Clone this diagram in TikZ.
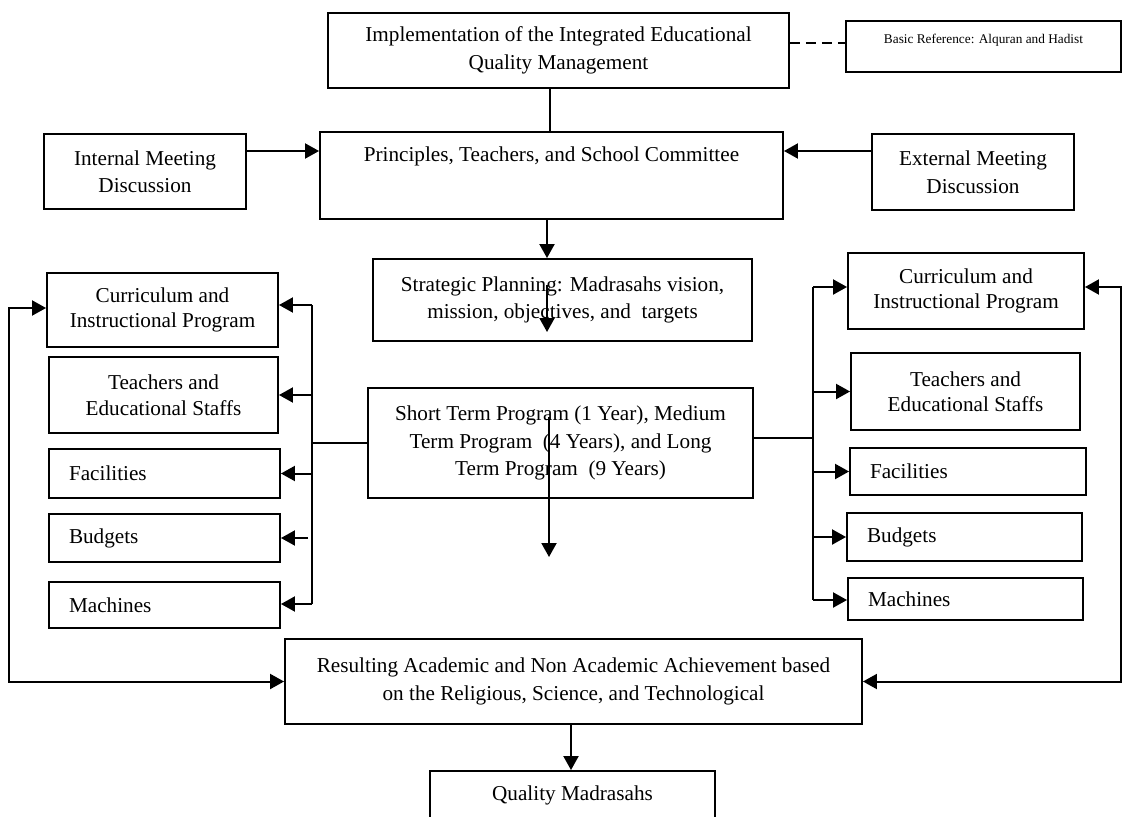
\documentclass[tikz,border=0pt]{standalone}
\usepackage{fontspec}
\setmainfont{Liberation Serif}
\usetikzlibrary{arrows.meta}
\begin{document}
\begin{tikzpicture}[x=1pt,y=-1pt,
  txtfont/.style={font=\fontsize{21.2}{27.5}\selectfont},
  box/.style 2 args={draw, line width=1.9pt, inner sep=0pt,
    minimum width=#1, minimum height=#2, align=center, txtfont},
  sidebox/.style 2 args={box={#1}{#2}, font=\fontsize{21.2}{25.5}\selectfont},
  leftbox/.style 2 args={box={#1}{#2}, inner xsep=20pt, text width=#1-40pt, align=left},
  txt/.style={inner sep=0pt, align=center, txtfont},
  tip/.tip={Triangle[length=14pt,width=15pt]},
  arr/.style={line width=2pt, -tip},
  dbl/.style={line width=2pt, tip-tip},
  conn/.style={line width=2pt},
  thinconn/.style={line width=1.4pt},
]
\clip (0,0) rectangle (1123,816);
\fill[white] (0,0) rectangle (1123,816);

% top row
\node[box={461pt}{75pt}] (impl) at (558.5,50.5)
  {Implementation of the Integrated Educational\\Quality Management};
\node[box={275pt}{51pt}] (basic) at (983.5,46.5) {};
\node[inner sep=0pt, font=\fontsize{13.3}{16}\selectfont] (basicT) at (983.5,40)
  {Basic Reference: Alquran and Hadist};
\coordinate (dy) at (0,43);
\draw[line width=1.5pt, dash pattern=on 10pt off 6pt] (impl.east |- dy) -- (basic.west |- dy);

% meetings
\node[box={463pt}{87pt}] (prin) at (551.5,175.5) {};
\node[txt] (prinT) at (551.5,156) {Principles, Teachers, and School Committee};
\node[box={202pt}{75pt}] (intm) at (145,171.5) {Internal Meeting\\Discussion};
\node[box={202pt}{76pt}] (extm) at (973,172) {External Meeting\\Discussion};
\coordinate (my) at (0,151);
\draw[arr] (intm.east |- my) -- (prin.west |- my);
\draw[arr] (extm.west |- my) -- (prin.east |- my);
\coordinate (ix) at (550,0);
\draw[conn] (impl.south -| ix) -- (prin.north -| ix);

% planning
\node[box={379pt}{82pt}] (strat) at (562.5,300)
  {Strategic Planning: Madrasahs vision,\\mission, objectives, and\ \ targets};
\node[box={385pt}{110pt}] (short) at (560.5,443)
  {Short Term Program (1 Year), Medium\\Term Program\ \ (4 Years), and Long\\Term Program\ \ (9 Years)};
\coordinate (mx) at (547,0);
\draw[arr] (prin.south -| mx) -- (strat.north -| mx);
\coordinate (s1) at (547,285);
\coordinate (s2) at (547,332);
\draw[arr] (s1) -- (s2);
\coordinate (p1) at (549,417);
\coordinate (p2) at (549,557);
\draw[arr] (p1) -- (p2);

% left column
\node[sidebox={231pt}{74pt}] (CL) at (162.5,310) {Curriculum and\\Instructional Program};
\node[sidebox={229pt}{76pt}] (TL) at (163.5,395) {Teachers and\\Educational Staffs};
\node[leftbox={231pt}{49pt}] (FL) at (164.5,473.5) {Facilities};
\node[leftbox={231pt}{48pt}] (BL) at (164.5,538) {Budgets};
\node[leftbox={231pt}{46pt}] (ML) at (164.5,605) {Machines};
\coordinate (lbT) at (312,305);
\coordinate (lbB) at (312,604);
\draw[conn] (lbT) -- (lbB);
\draw[thinconn] (short.west) -- (short.west -| lbT);
\draw[arr] (lbT) -- (CL.east |- lbT);
\draw[arr] (TL.east -| lbT) -- (TL.east);
\draw[arr] (FL.east -| lbT) -- (FL.east);
\draw[arr] ([xshift=-4pt]BL.east -| lbT) -- (BL.east);
\draw[arr] (lbB) -- (ML.east |- lbB);

% right column
\node[sidebox={236pt}{76pt}] (CR) at (966,291) {Curriculum and\\Instructional Program};
\node[sidebox={229pt}{77pt}] (TR) at (965.5,391.5) {Teachers and\\Educational Staffs};
\node[leftbox={236pt}{47pt}] (FR) at (968,471.5) {Facilities};
\node[leftbox={235pt}{48pt}] (BR) at (964.5,537) {Budgets};
\node[leftbox={235pt}{42pt}] (MR) at (965.5,599) {Machines};
\coordinate (rbT) at (813,287);
\coordinate (rbB) at (813,600);
\draw[conn] (rbT) -- (rbB);
\draw[thinconn] ([yshift=5pt]short.east) -- ([yshift=5pt]short.east -| rbT);
\draw[arr] (rbT) -- (CR.west |- rbT);
\draw[arr] (TR.west -| rbT) -- (TR.west);
\draw[arr] (FR.west -| rbT) -- (FR.west);
\draw[arr] (BR.west -| rbT) -- (BR.west);
\draw[arr] (rbB) -- (MR.west |- rbB);

% results
\node[box={577pt}{85pt}] (res) at (573.5,681.5)
  {Resulting Academic and Non Academic Achievement based\\on the Religious, Science, and Technological};
\node[box={285pt}{90pt}] (qual) at (572.5,816) {};
\node[txt] (qualT) at (572.5,795) {Quality Madrasahs};
\coordinate (qx) at (571,0);
\draw[arr] (res.south -| qx) -- (qual.north -| qx);

% feedback loops
\coordinate (lf) at (9,0);
\coordinate (rf) at (1121,0);
\draw[dbl] ([yshift=2pt]CL.west) -| (lf |- res.west) -- (res.west);
\draw[dbl] ([yshift=4pt]CR.east) -| (rf |- res.east) -- (res.east);
\end{tikzpicture}
\end{document}
